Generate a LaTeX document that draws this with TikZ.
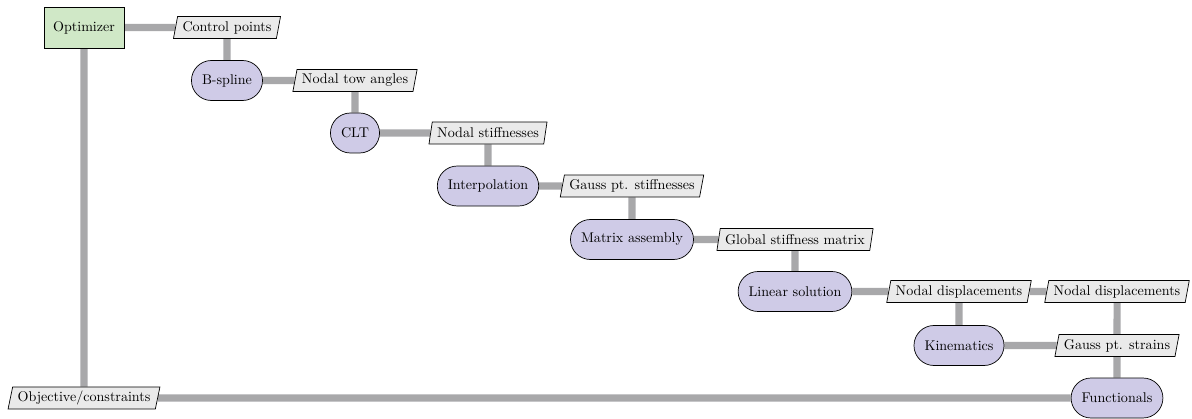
\documentclass[tikz,border=0pt]{standalone}
\usetikzlibrary{shapes.geometric,backgrounds}
\definecolor{optfill}{RGB}{208,232,199}
\definecolor{fnfill}{RGB}{207,203,231}
\definecolor{datafill}{RGB}{234,234,234}
\definecolor{dataline}{RGB}{168,168,170}
\tikzset{
  optbox/.style={draw=black, line width=0.5pt, fill=optfill, minimum width=56.8pt, minimum height=29.1pt, inner sep=0pt},
  fnbox/.style={draw=black, line width=0.5pt, fill=fnfill, rounded corners=14.2pt, minimum height=28.4pt, inner xsep=7.5pt, inner ysep=0pt},
  databox/.style={draw=black, line width=0.5pt, fill=datafill, trapezium, trapezium left angle=72, trapezium right angle=108, trapezium stretches=true, minimum height=15.6pt, inner xsep=3.5pt, inner ysep=0pt},
  flow/.style={draw=dataline, line width=5pt},
}
\begin{document}
\begin{tikzpicture}[x=0.71pt,y=-0.71pt]
\useasboundingbox (0,0) rectangle (1192,419);
% components on the diagonal
\node[optbox] (opt) at (84,27.5) {Optimizer};
\node[fnbox] (bs) at (227,80.5) {B-spline};
\node[fnbox] (clt) at (355,133) {CLT};
\node[fnbox] (interp) at (488,186) {Interpolation};
\node[fnbox] (ma) at (632,239.5) {Matrix assembly};
\node[fnbox] (ls) at (795,291.5) {Linear solution};
\node[fnbox] (kin) at (959,345.5) {Kinematics};
\node[fnbox] (fun) at (1117,398) {Functionals};
% data passed between components
\node[databox] (cp) at (227,27.5) {Control points};
\node[databox] (nta) at (355,80.5) {Nodal tow angles};
\node[databox] (ns) at (488,133) {Nodal stiffnesses};
\node[databox] (gps) at (632,186) {Gauss pt. stiffnesses};
\node[databox] (gsm) at (795,239.5) {Global stiffness matrix};
\node[databox] (nd1) at (959,291.5) {Nodal displacements};
\node[databox] (nd2) at (1117,291.5) {Nodal displacements};
\node[databox] (gstr) at (1117,345.5) {Gauss pt. strains};
\node[databox] (obj) at (84,398) {Objective/constraints};
% data lines behind the boxes
\begin{scope}[on background layer]
\draw[flow] (opt) -- (cp);
\draw[flow] (cp) -- (bs);
\draw[flow] (bs) -- (nta);
\draw[flow] (nta) -- (clt);
\draw[flow] (clt) -- (ns);
\draw[flow] (ns) -- (interp);
\draw[flow] (interp) -- (gps);
\draw[flow] (gps) -- (ma);
\draw[flow] (ma) -- (gsm);
\draw[flow] (gsm) -- (ls);
\draw[flow] (ls) -- (nd1);
\draw[flow] (nd1) -- (nd2);
\draw[flow] (nd1) -- (kin);
\draw[flow] (kin) -- (gstr);
\draw[flow] (nd2) -- (gstr);
\draw[flow] (gstr) -- (fun);
\draw[flow] (fun) -- (obj);
\draw[flow] (opt) -- (obj);
\end{scope}
\end{tikzpicture}
\end{document}
